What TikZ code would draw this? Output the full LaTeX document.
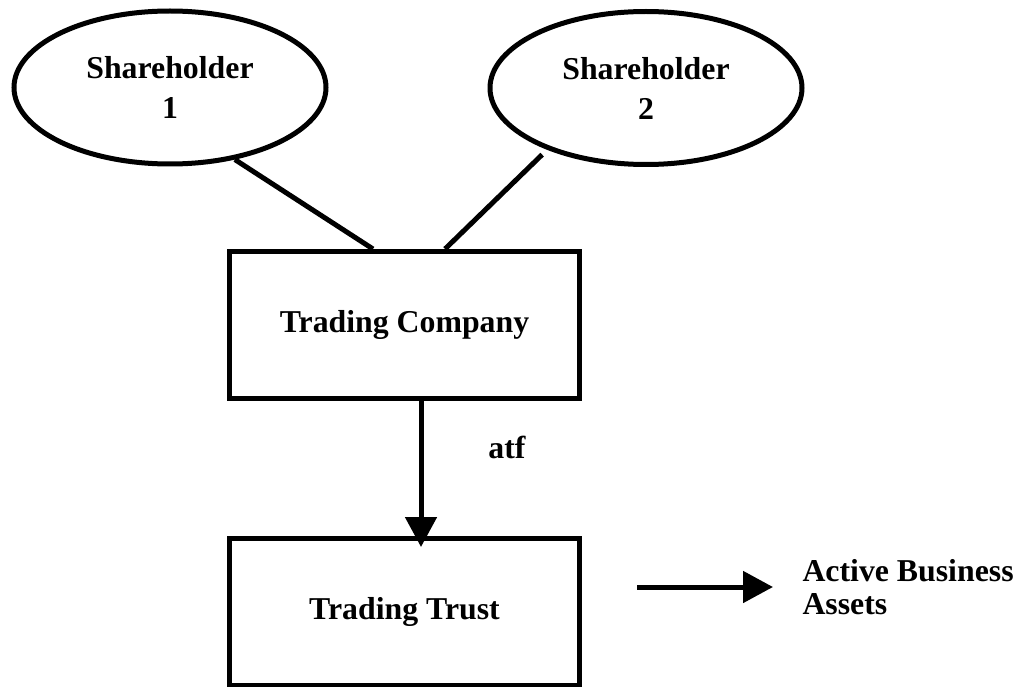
\documentclass[tikz,border=0pt]{standalone}
\usepackage{fontspec}
\setmainfont{Liberation Serif}
\usetikzlibrary{shapes.geometric,arrows.meta}

\begin{document}
\begin{tikzpicture}[x=1pt,y=-1pt,line width=5pt,
	every node/.style={font=\fontsize{31.8}{40}\selectfont\bfseries},
	holder/.style={draw,ellipse,minimum width=312pt,minimum height=153pt,inner sep=0pt,align=center},
	entity/.style={draw,rectangle,minimum width=350pt,minimum height=147pt,inner sep=0pt},
	flow/.style={-{Triangle[length=30pt,width=31pt]}}]
	\useasboundingbox (0,0) rectangle (1018,687);
	\node[holder] (sh1) at (170,87.5) {Shareholder\\1};
	\node[holder] (sh2) at (646,88) {Shareholder\\2};
	\node[entity] (tc) at (404.5,325) {Trading Company};
	\node[entity] (tt) at (404.5,612) {Trading Trust};
	\node (atf) at (507,447) {atf};
	\node[inner sep=0pt,anchor=west,align=left,font=\fontsize{31.8}{33}\selectfont\bfseries] (assets) at (800,587) {Active Business\\Assets};
	\coordinate (feed) at (637,587);
	\draw (sh1.-48) -- ([xshift=-31.5pt]tc.north);
	\draw[shorten <=7pt] (sh2.212) -- ([xshift=40.5pt]tc.north);
	\draw[flow] ([xshift=16.5pt]tc.south) -- ([xshift=16.5pt,yshift=-11pt]tt.north);
	\draw[flow] (feed) -- ([xshift=-27pt]assets.west);
\end{tikzpicture}
\end{document}
